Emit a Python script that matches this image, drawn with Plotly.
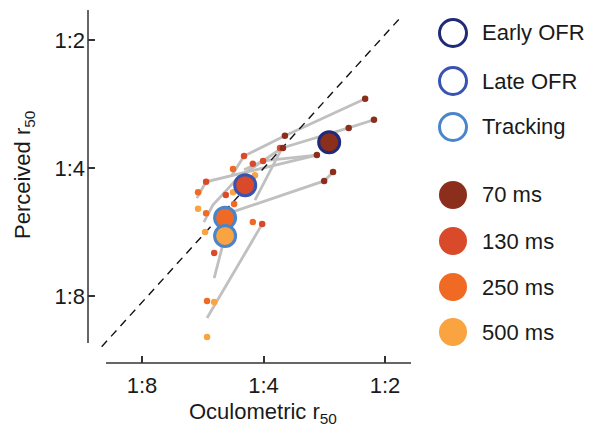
import plotly.graph_objects as go

# ---- data (r50 given as 1:N, values are N) ----
ms70_x = [2.24, 2.13, 2.46, 3.54, 3.58, 2.95, 2.69, 2.83]
ms70_y = [2.75, 3.08, 3.22, 3.36, 3.59, 3.73, 4.09, 4.29]
ms130_x = [3.64, 4.01, 4.47, 4.25, 5.55, 4.96, 4.03, 5.30]
ms130_y = [3.59, 3.85, 3.75, 3.91, 4.31, 4.63, 5.42, 6.34]
ms250_x = [4.76, 5.81, 4.73, 5.55, 4.25, 5.52]
ms250_y = [4.02, 4.56, 4.86, 5.11, 5.36, 8.22]
ms500_x = [4.20, 4.76, 5.81, 5.58, 5.30, 5.52]
ms500_y = [4.16, 4.56, 4.99, 5.66, 8.26, 9.99]

# subject lines (grey)
line_x = [
    [2.24, 3.54, 4.47, 4.79],
    [2.13, 2.46, 3.60],
    [3.60, 4.63, 5.34, 5.62],
    [2.95, 4.01, 4.47],
    [2.95, 5.55, 5.85],
    [3.60, 4.20],
    [2.69, 2.83, 4.79],
    [4.03, 5.52],
    [4.98, 5.30],
]
line_y = [
    [2.75, 3.36, 3.75, 4.16],
    [3.08, 3.22, 3.59],
    [3.59, 4.22, 4.89, 5.36],
    [3.73, 3.85, 4.04],
    [3.73, 4.31, 4.71],
    [3.59, 4.76],
    [4.09, 4.29, 5.08],
    [5.42, 9.01],
    [5.78, 7.26],
]

# group means
mean_labels = ["70 ms", "130 ms", "250 ms", "500 ms"]
mean_x = [2.75, 4.44, 4.98, 4.98]
mean_y = [3.48, 4.39, 5.24, 5.78]
mean_group = ["Early OFR", "Late OFR", "Tracking", "Tracking"]

# unity (dashed) line ends
unity_x = [10.07, 1.825]
unity_y = [10.53, 1.765]

tick_vals_N = [8, 4, 2]
tick_text = ["1:8", "1:4", "1:2"]

groups = ["Early OFR", "Late OFR", "Tracking"]
durations = ["70 ms", "130 ms", "250 ms", "500 ms"]

# ---- styles ----
dur_colors = {"70 ms": "#8B2E1C", "130 ms": "#D84A2A", "250 ms": "#F06A24", "500 ms": "#F9A341"}
grp_colors = {"Early OFR": "#1F2A78", "Late OFR": "#3953B3", "Tracking": "#4A85CB"}
FONT = "Liberation Sans, Arial, sans-serif"
W, H = 589, 432

fig = go.Figure()

for lx, ly in zip(line_x, line_y):
    fig.add_trace(go.Scatter(x=[1 / v for v in lx], y=[1 / v for v in ly], mode="lines",
                             line=dict(color="#C0C0C0", width=2.8), hoverinfo="skip", showlegend=False))

fig.add_trace(go.Scatter(x=[1 / v for v in unity_x], y=[1 / v for v in unity_y], mode="lines",
                         line=dict(color="#111111", width=1.4, dash="8px,6px"), showlegend=False))

for name, xs, ys in [("500 ms", ms500_x, ms500_y), ("250 ms", ms250_x, ms250_y),
                     ("130 ms", ms130_x, ms130_y), ("70 ms", ms70_x, ms70_y)]:
    fig.add_trace(go.Scatter(x=[1 / v for v in xs], y=[1 / v for v in ys], mode="markers",
                             marker=dict(size=6.5, color=dur_colors[name], line=dict(width=0)),
                             showlegend=False))

for lab, mx, my, g in zip(mean_labels, mean_x, mean_y, mean_group):
    fig.add_trace(go.Scatter(x=[1 / mx], y=[1 / my], mode="markers",
                             marker=dict(size=21, color=dur_colors[lab],
                                         line=dict(width=3, color=grp_colors[g])),
                             showlegend=False))

axis_common = dict(type="log", showgrid=False, zeroline=False, showline=False,
                   ticks="inside", ticklen=7, tickwidth=1.5, tickcolor="#333333",
                   tickvals=[1 / v for v in tick_vals_N], ticktext=tick_text,
                   tickfont=dict(family=FONT, size=22, color="#1a1a1a"),
                   automargin=False)

# plot area in pixels
L, R, T, B = 88, 411, 10, 363
fig.update_layout(
    width=W, height=H, margin=dict(l=0, r=0, t=0, b=0),
    paper_bgcolor="white", plot_bgcolor="white",
    xaxis=dict(domain=[L / W, R / W], range=[-1.03687, -0.23661], ticklabelstandoff=7, **axis_common),
    yaxis=dict(domain=[1 - B / H, 1 - T / H], range=[-1.06066, -0.23048], ticklabelstandoff=2, **axis_common),
    showlegend=False,
)

shapes = [
    dict(type="line", xref="paper", yref="paper", x0=L / W, x1=L / W, y0=1 - 343 / H, y1=1 - T / H,
         line=dict(color="#333333", width=1.5)),
    dict(type="line", xref="paper", yref="paper", x0=106 / W, x1=R / W, y0=1 - B / H, y1=1 - B / H,
         line=dict(color="#333333", width=1.5)),
]
annotations = [
    dict(text="Oculometric r<sub>50</sub>", xref="paper", yref="paper", x=263 / W, y=1 - 413 / H,
         xanchor="center", yanchor="middle", showarrow=False, font=dict(family=FONT, size=22, color="#1a1a1a")),
    dict(text="Perceived r<sub>50</sub>", xref="paper", yref="paper", x=24 / W, y=1 - 175 / H,
         xanchor="center", yanchor="middle", textangle=-90, showarrow=False,
         font=dict(family=FONT, size=22, color="#1a1a1a")),
]

# custom legend
leg_x = 453
leg_text_x = 480
leg_y_groups = [33, 81, 127]
leg_y_durs = [195, 241, 287, 332]
for g, yy in zip(groups, leg_y_groups):
    shapes.append(dict(type="circle", xref="paper", yref="paper", xsizemode="pixel", ysizemode="pixel",
                       xanchor=leg_x / W, yanchor=1 - yy / H, x0=-13.5, x1=13.5, y0=-13.5, y1=13.5,
                       line=dict(color=grp_colors[g], width=3), fillcolor="white"))
    annotations.append(dict(text=g, xref="paper", yref="paper", x=leg_text_x / W, y=1 - yy / H,
                            xanchor="left", yanchor="middle", showarrow=False,
                            font=dict(family=FONT, size=22, color="#1a1a1a")))
for d, yy in zip(durations, leg_y_durs):
    shapes.append(dict(type="circle", xref="paper", yref="paper", xsizemode="pixel", ysizemode="pixel",
                       xanchor=leg_x / W, yanchor=1 - yy / H, x0=-14, x1=14, y0=-14, y1=14,
                       line=dict(width=0), fillcolor=dur_colors[d]))
    annotations.append(dict(text=d, xref="paper", yref="paper", x=leg_text_x / W, y=1 - yy / H,
                            xanchor="left", yanchor="middle", showarrow=False,
                            font=dict(family=FONT, size=22, color="#1a1a1a")))

fig.update_layout(shapes=shapes, annotations=annotations)
fig.write_html("out.html")
